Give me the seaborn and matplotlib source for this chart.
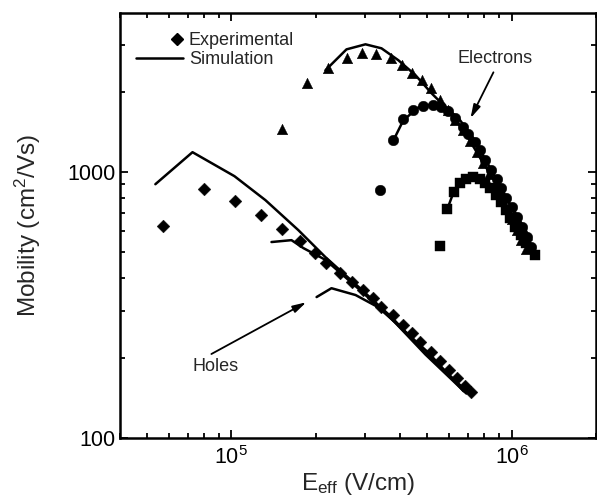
import numpy as np
import pandas as pd
import matplotlib
matplotlib.use("Agg")
import matplotlib.pyplot as plt
import seaborn as sns
from matplotlib.lines import Line2D
from matplotlib.legend_handler import HandlerLine2D
from matplotlib.ticker import LogLocator, NullFormatter, FixedLocator, FixedFormatter

# ---------------- data ----------------
# Holes, experimental (diamonds)
holes_exp_x = [57200, 80100, 103300, 127000, 151000, 175000, 199500, 218400, 245000,
               270500, 296000, 321000, 343000, 379000, 411000, 440000, 473000, 514000,
               554000, 596000, 637000, 680000, 714000]
holes_exp_y = [627, 863, 778, 689, 611, 551, 496, 455, 417,
               386, 360, 336, 311, 290, 266, 248, 230, 211,
               195, 180, 168, 157, 149]

# Holes, simulation (three curves)
holes_sim1_x = [53500, 72600, 102500, 132200, 173400, 216600, 284500, 372800, 493000, 701000]
holes_sim1_y = [901, 1189, 966, 785, 605, 479, 370, 285, 209, 148]
holes_sim2_x = [139000, 163800, 180700, 216600, 284500, 372800, 493000, 690000]
holes_sim2_y = [546, 555, 518, 468, 364, 281, 206, 147]
holes_sim3_x = [201400, 227600, 277500, 335000, 411000, 506000, 674000]
holes_sim3_y = [339, 366, 345, 310, 255, 209, 150]

# Electrons, experimental: triangles, circles, squares
el_tri_x = [151000, 186700, 221700, 259400, 293600, 329500, 369800, 404800, 439700,
            477400, 514200, 557600, 595600, 631000, 668600, 708000, 750000, 794000,
            834000, 877000, 921000, 959000, 1000000, 1042000, 1077000, 1122000]
el_tri_y = [1452, 2162, 2462, 2685, 2801, 2778, 2685, 2525, 2355,
            2218, 2070, 1866, 1711, 1568, 1439, 1309, 1189, 1081,
            983, 885, 805, 732, 666, 605, 555, 514]
el_cir_x = [340000, 379000, 411000, 446700, 485000, 526000, 562000, 595600, 631000,
            668600, 702000, 743000, 774000, 807000, 848000, 884000, 921000, 959000,
            1000000, 1042000, 1086000, 1132000, 1178000]
el_cir_y = [855, 1319, 1581, 1711, 1770, 1786, 1754, 1694, 1596,
            1476, 1390, 1297, 1210, 1109, 1017, 942, 871, 798,
            738, 677, 621, 570, 523]
el_sq_x = [557600, 590000, 621000, 657000, 690000, 731000, 774000, 807000, 841000,
           877000, 914000, 952000, 991000, 1033000, 1077000, 1122000, 1218000]
el_sq_y = [527, 726, 841, 910, 942, 958, 942, 910, 871,
           820, 771, 720, 671, 621, 579, 541, 488]

# Electrons, simulation
el_sim_tri_x = [216600, 257500, 301000, 343300, 394600, 454000, 518000, 595600,
                685000, 781000, 899000, 1033000, 1178000]
el_sim_tri_y = [2417, 2897, 3027, 2924, 2636, 2317, 1982, 1711,
                1402, 1109, 879, 702, 555]
el_sim_cir_x = [379000, 411000, 465600, 526000, 580000, 647000, 731000, 828000,
                936000, 1059000, 1199000]
el_sim_cir_y = [1319, 1568, 1754, 1803, 1754, 1596, 1343, 1062, 841, 661, 509]
el_sim_sq_x = [590000, 621000, 674000, 743000, 828000, 936000, 1059000, 1199000]
el_sim_sq_y = [726, 841, 925, 958, 917, 785, 632, 500]

x_ticks = [1e5, 1e6]
x_ticklabels = ["$10^5$", "$10^6$"]
y_ticks = [100, 1000]
y_ticklabels = ["100", "1000"]

# ---------------- style ----------------
sns.set_style("ticks")
plt.rcParams["font.family"] = ["Liberation Sans", "DejaVu Sans"]
plt.rcParams["mathtext.fontset"] = "custom"
plt.rcParams["mathtext.rm"] = "Liberation Sans"
plt.rcParams["mathtext.it"] = "Liberation Sans"

fig = plt.figure(figsize=(5.97, 5.0), dpi=100)
ax = fig.add_axes([0.201, 0.124, 0.797, 0.850])

LW = 1.8
line_kw = dict(sort=False, estimator=None, color="black", lw=LW, ax=ax, legend=False)
for xs, ys in [(holes_sim1_x, holes_sim1_y), (holes_sim2_x, holes_sim2_y),
               (holes_sim3_x, holes_sim3_y), (el_sim_tri_x, el_sim_tri_y),
               (el_sim_cir_x, el_sim_cir_y), (el_sim_sq_x, el_sim_sq_y)]:
    sns.lineplot(x=xs, y=ys, **line_kw)

sc_kw = dict(color="black", edgecolor="black", linewidth=0.3, ax=ax, legend=False, zorder=3)
sns.scatterplot(x=holes_exp_x, y=holes_exp_y, marker="D", s=42, **sc_kw)
sns.scatterplot(x=el_tri_x, y=el_tri_y, marker="^", s=58, **sc_kw)
sns.scatterplot(x=el_cir_x, y=el_cir_y, marker="o", s=58, **sc_kw)
sns.scatterplot(x=el_sq_x, y=el_sq_y, marker="s", s=42, **sc_kw)

ax.set_xscale("log")
ax.set_yscale("log")
ax.set_xlim(4e4, 2e6)
ax.set_ylim(100, 3970)

ax.xaxis.set_major_locator(FixedLocator(x_ticks))
ax.xaxis.set_major_formatter(FixedFormatter(x_ticklabels))
ax.yaxis.set_major_locator(FixedLocator(y_ticks))
ax.yaxis.set_major_formatter(FixedFormatter(y_ticklabels))
ax.xaxis.set_minor_locator(LogLocator(base=10, subs=np.arange(2, 10)))
ax.yaxis.set_minor_locator(LogLocator(base=10, subs=np.arange(2, 10)))
ax.xaxis.set_minor_formatter(NullFormatter())
ax.yaxis.set_minor_formatter(NullFormatter())

ax.tick_params(which="both", direction="in", top=True, right=True, colors="black",
               labelsize=15.5, width=1.3)
ax.tick_params(which="major", length=6)
ax.tick_params(which="minor", length=3.5)
ax.tick_params(axis="x", pad=6)
for s in ax.spines.values():
    s.set_linewidth(1.8)
    s.set_color("black")

ax.set_ylabel("Mobility (cm$^2$/Vs)", fontsize=17.5, labelpad=17)
ax.set_xlabel("E$_{\\rm eff}$ (V/cm)", fontsize=17.5, labelpad=1)


class RightMarkerHandler(HandlerLine2D):
    """Place the single legend marker at the right end of the handle box."""
    def get_xdata(self, legend, xdescent, ydescent, width, height, fontsize):
        xr = width - xdescent - 0.3 * fontsize
        return np.array([xr, xr]), np.array([xr])


handles = [Line2D([0], [0], marker="D", color="black", ls="", markersize=6.5),
           Line2D([0], [0], color="black", lw=LW)]
ax.legend(handles, ["Experimental", "Simulation"], loc="upper left",
          bbox_to_anchor=(0.033, 0.955), frameon=False, fontsize=13,
          handlelength=2.6, handletextpad=0.35, labelspacing=0.1,
          borderpad=0, borderaxespad=0,
          handler_map={handles[0]: RightMarkerHandler(numpoints=1)})

arrow_kw = dict(arrowstyle="-|>,head_length=0.8,head_width=0.22", color="black", lw=1.3,
                shrinkA=0, shrinkB=0)
ax.annotate("", xy=(714000, 1596), xytext=(862000, 2375), arrowprops=arrow_kw)
ax.text(877000, 2684, "Electrons", fontsize=13, ha="center", va="center")
ax.annotate("", xy=(185000, 324), xytext=(84800, 207), arrowprops=arrow_kw)
ax.text(87700, 185, "Holes", fontsize=13, ha="center", va="center")

fig.savefig("out.png", dpi=100)
